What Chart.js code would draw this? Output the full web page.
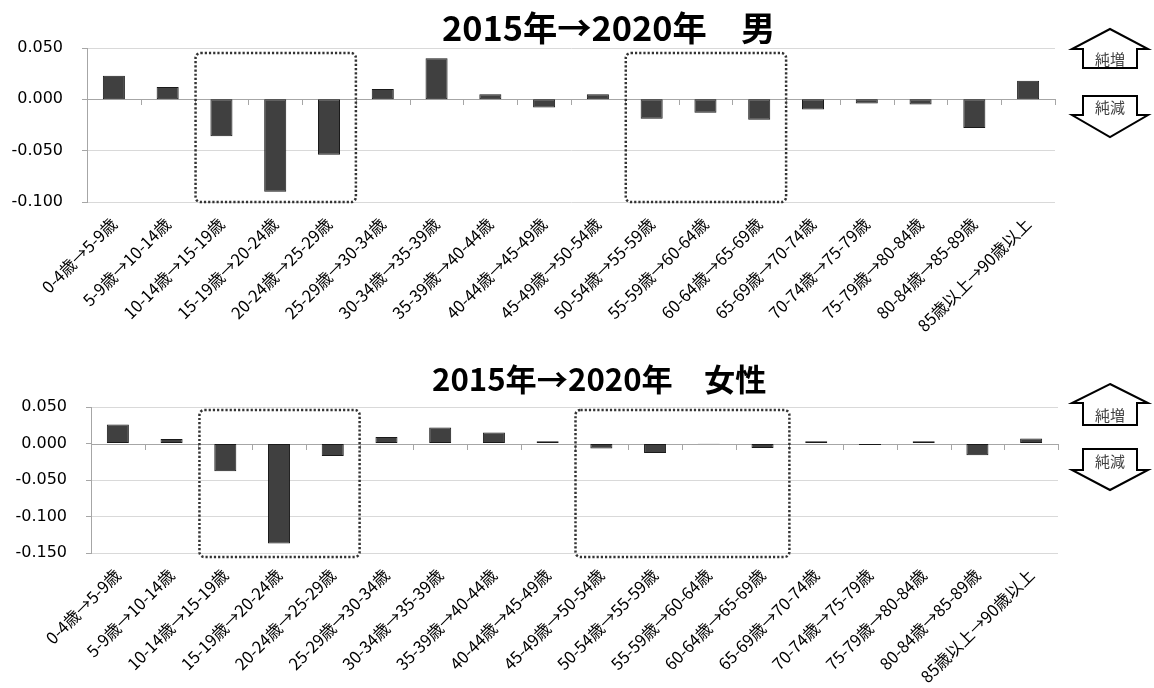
<!DOCTYPE html>
<html><head><meta charset="utf-8">
<script src="https://cdn.jsdelivr.net/npm/chart.js@4.4.1/dist/chart.umd.min.js"></script>
<style>
body{margin:0;background:#fff;width:1154px;height:688px;overflow:hidden;}
.wrap{position:absolute;left:0;width:1154px;}
</style></head><body>
<div class="wrap" style="top:0;height:345px"><canvas id="c1" width="1154" height="345"></canvas></div>
<div class="wrap" style="top:345px;height:343px"><canvas id="c2" width="1154" height="343"></canvas></div>
<script>
const categories = [
  "0-4歳→5-9歳","5-9歳→10-14歳","10-14歳→15-19歳","15-19歳→20-24歳","20-24歳→25-29歳",
  "25-29歳→30-34歳","30-34歳→35-39歳","35-39歳→40-44歳","40-44歳→45-49歳","45-49歳→50-54歳",
  "50-54歳→55-59歳","55-59歳→60-64歳","60-64歳→65-69歳","65-69歳→70-74歳","70-74歳→75-79歳",
  "75-79歳→80-84歳","80-84歳→85-89歳","85歳以上→90歳以上"
];
const maleValues = [0.023, 0.012, -0.036, -0.090, -0.054, 0.010, 0.040, 0.005, -0.008,
  0.005, -0.019, -0.013, -0.020, -0.010, -0.004, -0.005, -0.028, 0.018];
const femaleValues = [0.026, 0.006, -0.038, -0.137, -0.017, 0.009, 0.022, 0.015, 0.003,
  -0.007, -0.013, -0.0005, -0.006, 0.003, -0.002, 0.003, -0.016, 0.007];
const maleTitle = "2015年→2020年　男";
const femaleTitle = "2015年→2020年　女性";
const maleRange = [0.05, -0.10];
const femaleRange = [0.05, -0.15];
const maleBoxes = [[2, 4], [10, 12]];
const femaleBoxes = [[2, 4], [9, 12]];
const upLabel = "純増";
const downLabel = "純減";

function decorPlugin(cfg) {
  return {
    id: 'decor',
    beforeDatasetsDraw(chart) {
      const ctx = chart.ctx, y = chart.scales.y;
      const a = chart.chartArea;
      const n = categories.length;
      const w = (a.right - a.left) / n;
      const y0 = y.getPixelForValue(0);
      ctx.save();
      ctx.strokeStyle = '#a6a6a6';
      ctx.lineWidth = 1;
      ctx.beginPath();
      ctx.moveTo(a.left, Math.round(y0) + 0.5);
      ctx.lineTo(a.right, Math.round(y0) + 0.5);
      for (let i = 0; i <= n; i++) {
        const xx = Math.round(a.left + i * w) + 0.5;
        ctx.moveTo(xx, Math.round(y0));
        ctx.lineTo(xx, Math.round(y0) + 6);
      }
      ctx.stroke();
      ctx.restore();
    },
    afterDraw(chart) {
      const ctx = chart.ctx, y = chart.scales.y;
      const a = chart.chartArea;
      const n = categories.length;
      const w = (a.right - a.left) / n;
      ctx.save();
      // title
      let fs = 30;
      ctx.font = 'bold ' + fs + 'px "Noto Sans CJK JP", sans-serif';
      const m = ctx.measureText(cfg.title).width;
      fs = fs * cfg.titleW / m;
      ctx.font = 'bold ' + fs.toFixed(1) + 'px "Noto Sans CJK JP", sans-serif';
      ctx.fillStyle = '#000';
      ctx.textBaseline = 'alphabetic';
      ctx.textAlign = 'left';
      ctx.fillText(cfg.title, cfg.titleX, cfg.titleY);
      // dotted rounded boxes
      ctx.strokeStyle = '#333';
      ctx.lineWidth = 2.5;
      ctx.setLineDash([2.2, 2]);
      const top = y.getPixelForValue(cfg.range[0]) + cfg.boxTop;
      const bot = y.getPixelForValue(cfg.range[1]) + cfg.boxBot;
      cfg.boxes.forEach(([s, e]) => {
        const l = a.left + s * w + 1, r = a.left + (e + 1) * w;
        ctx.beginPath();
        ctx.roundRect(l, top, r - l, bot - top, 5);
        ctx.stroke();
      });
      ctx.setLineDash([]);
      // arrows
      const cx = 1110;
      ctx.lineWidth = 2;
      ctx.strokeStyle = '#000';
      ctx.fillStyle = '#fff';
      const u = cfg.up;
      ctx.beginPath();
      ctx.moveTo(cx, u[0]);
      ctx.lineTo(cx + 38, u[1]);
      ctx.lineTo(cx + 27, u[1]);
      ctx.lineTo(cx + 27, u[2]);
      ctx.lineTo(cx - 27, u[2]);
      ctx.lineTo(cx - 27, u[1]);
      ctx.lineTo(cx - 38, u[1]);
      ctx.closePath();
      ctx.fill(); ctx.stroke();
      const d = cfg.down;
      ctx.beginPath();
      ctx.moveTo(cx - 27, d[0]);
      ctx.lineTo(cx + 27, d[0]);
      ctx.lineTo(cx + 27, d[1]);
      ctx.lineTo(cx + 38, d[1]);
      ctx.lineTo(cx, d[2]);
      ctx.lineTo(cx - 38, d[1]);
      ctx.lineTo(cx - 27, d[1]);
      ctx.closePath();
      ctx.fill(); ctx.stroke();
      ctx.fillStyle = '#404040';
      ctx.font = '15px "Noto Sans CJK JP", sans-serif';
      ctx.textAlign = 'center';
      ctx.textBaseline = 'middle';
      ctx.fillText(upLabel, cx, (u[1] + u[2]) / 2 + 1);
      ctx.fillText(downLabel, cx, (d[0] + d[1]) / 2 + 2);
      ctx.restore();
    }
  };
}

function makeChart(id, values, cfg) {
  return new Chart(document.getElementById(id), {
    type: 'bar',
    data: {
      labels: categories,
      datasets: [{
        data: values,
        backgroundColor: '#404040',
        borderColor: '#1a1a1a',
        borderWidth: 1,
        borderSkipped: false,
        categoryPercentage: 1,
        barPercentage: 0.41
      }]
    },
    options: {
      responsive: false,
      animation: false,
      devicePixelRatio: 1,
      layout: { padding: { top: cfg.padTop, left: 0, right: cfg.padRight, bottom: 0 } },
      plugins: { legend: { display: false }, tooltip: { enabled: false }, title: { display: false } },
      scales: {
        x: {
          offset: true,
          grid: { display: false },
          border: { display: false },
          afterFit(s) { s.height = cfg.xHeight; },
          ticks: {
            autoSkip: false, minRotation: 45, maxRotation: 45, padding: cfg.xPad,
            color: '#000',
            font: { family: '"Noto Sans CJK JP", sans-serif', size: 16.5 }
          }
        },
        y: {
          min: cfg.range[1], max: cfg.range[0],
          afterFit(s) { s.width = cfg.yWidth; },
          grid: {
            color: (c) => (c.tick && c.tick.value === 0 ? 'rgba(0,0,0,0)' : '#d9d9d9'),
            tickColor: '#a6a6a6', tickLength: 5
          },
          border: { color: '#a6a6a6' },
          ticks: {
            stepSize: 0.05, padding: 19, color: '#000',
            font: { family: '"DejaVu Sans", Verdana, sans-serif', size: 16 },
            callback: (v) => { const r = Math.round(v * 1000) / 1000; return (r === 0 ? 0 : r).toFixed(3); }
          }
        }
      }
    },
    plugins: [decorPlugin(cfg)]
  });
}

makeChart('c1', maleValues, {
  title: maleTitle, titleX: 442, titleY: 41, titleW: 333,
  range: maleRange, boxes: maleBoxes, boxTop: 5, boxBot: 0,
  padTop: 48, padRight: 99, xHeight: 143, yWidth: 87, xPad: 4,
  up: [29, 49, 68], down: [96, 115, 137]
});
makeChart('c2', femaleValues, {
  title: femaleTitle, titleX: 432, titleY: 46, titleW: 334,
  range: femaleRange, boxes: femaleBoxes, boxTop: 3, boxBot: 4,
  padTop: 62, padRight: 96, xHeight: 135, yWidth: 91, xPad: 4,
  up: [39, 58, 80], down: [104, 125, 145]
});
</script>
</body></html>
